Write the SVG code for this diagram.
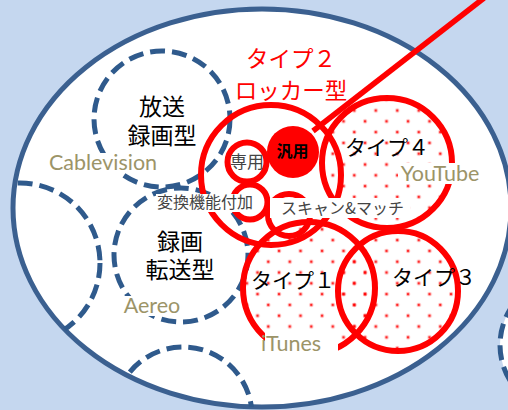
<svg xmlns="http://www.w3.org/2000/svg" width="508" height="410" viewBox="0 0 508 410">
<style>
text{font-family:"Noto Sans CJK JP","Noto Sans",sans-serif;text-anchor:middle}
.dash{fill:none;stroke:#2f5a8c;stroke-width:5;stroke-dasharray:15 7}
.red{fill:none;stroke:#f00;stroke-width:6}
.dot{fill:url(#dots);stroke:#f00;stroke-width:6}
.lbl{fill:#000;font-size:21px}
.rlbl{fill:#f00;font-size:22.5px}
.big{fill:#000;font-size:23px}
.co{fill:#9c9468;font-family:Lato,"Open Sans",sans-serif;font-size:21.5px}
.sm{fill:#444;font-size:16px}
.box{fill:#fff}
</style>
<defs>
<pattern id="dots" patternUnits="userSpaceOnUse" x="263.3" y="300" width="21.5" height="21.6">
<circle cx="5" cy="5" r="2.2" fill="#f00" opacity=".25"/><circle cx="5" cy="5" r="1.2" fill="#f00" opacity=".8"/>
<circle cx="15.75" cy="15.8" r="2.2" fill="#f00" opacity=".25"/><circle cx="15.75" cy="15.8" r="1.2" fill="#f00" opacity=".8"/>
</pattern>
<clipPath id="inner"><ellipse cx="262" cy="208" rx="249" ry="199"/></clipPath>
</defs>
<rect width="508" height="410" fill="#c5d7ef"/>
<circle cx="568" cy="345" r="68" class="dash" style="fill:#fff"/>
<g id="outer"><ellipse cx="262" cy="208" rx="249" ry="199" fill="#fff" stroke="#3b6090" stroke-width="5"/></g>
<g id="left-arc" clip-path="url(#inner)"><circle cx="20" cy="263" r="80" class="dash"/></g>
<g id="bottom-arc" clip-path="url(#inner)"><circle cx="183" cy="416" r="69" class="dash"/></g>
<g id="housou"><circle cx="162" cy="119" r="68" class="dash"/>
<text class="big"><tspan x="162" y="115">放送</tspan><tspan x="162" y="144">録画型</tspan></text></g>
<g id="tensou"><circle cx="181" cy="255" r="67" class="dash"/>
<text class="big"><tspan x="180" y="250">録画</tspan><tspan x="180" y="278">転送型</tspan></text></g>
<g id="type4"><circle cx="387" cy="163" r="65" class="dot"/></g>
<g id="type3"><circle cx="398" cy="291" r="60" class="dot"/></g>
<g id="type1"><circle cx="309" cy="288" r="66" class="dot"/></g>
<g id="type2"><circle cx="271" cy="175" r="70" class="red"/>
<text class="rlbl"><tspan x="291" y="67">タイプ２</tspan><tspan x="291" y="99">ロッカー型</tspan></text></g>
<g id="connectors"><line x1="313" y1="131" x2="484" y2="-2" stroke="#f00" stroke-width="5.5"/></g>
<g id="hanyou"><circle cx="293" cy="152" r="26" fill="#f00"/><text x="292.500" y="157" font-weight="700" fill="#000" style="font-size:16px">汎用</text></g>
<g id="senyou"><circle cx="247" cy="162" r="19.500" class="red"/><text x="247" y="168" class="sm" style="font-size:17px">専用</text></g>
<g id="henkan"><circle cx="250" cy="202" r="17.500" class="red"/>
<rect x="156" y="194" width="98" height="18" class="box"/><text x="205" y="208" class="sm">変換機能付加</text></g>
<g id="scan"><circle cx="289" cy="215" r="21" class="red"/>
<rect x="270" y="198" width="140" height="20" class="box"/><text x="342.500" y="214" class="sm">スキャン&amp;マッチ</text></g>
<rect x="49" y="153" width="109" height="20" class="box"/>
<text x="103" y="170" class="co">Cablevision</text>
<rect x="398" y="163" width="86" height="21" class="box"/>
<text x="440" y="181" class="co">YouTube</text>
<rect x="122" y="296" width="59" height="20" class="box"/>
<text x="152" y="313" class="co">Aereo</text>
<rect x="265" y="333" width="73" height="26" class="box"/>
<text x="291" y="351" class="co">iTunes</text>
<text x="387" y="155" class="lbl">タイプ４</text>
<text x="293" y="288" class="lbl">タイプ１</text>
<text x="434" y="285" class="lbl">タイプ３</text>
</svg>
